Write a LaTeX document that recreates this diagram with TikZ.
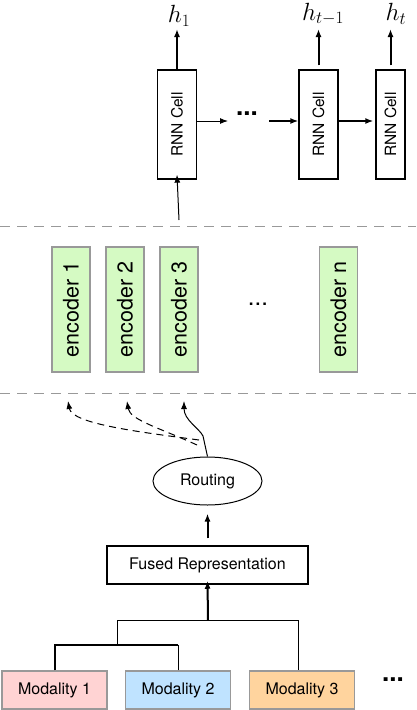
\documentclass[tikz,border=0pt]{standalone}
\usepackage{amsmath}
\usepackage{fontspec}
\setmainfont{TeX Gyre Heros}
\usepackage{tikz}
\usetikzlibrary{arrows.meta,shapes.geometric}
\tikzset{>={Latex[length=8,width=6]}}
\usepackage{xcolor}
\definecolor{encgreen}{HTML}{D5FAC3}
\definecolor{modpink}{HTML}{FFD3D3}
\definecolor{modblue}{HTML}{BFE3FF}
\definecolor{modorange}{HTML}{FFD49E}
\colorlet{boxgray}{black!40}
\tikzstyle{cell}=[draw,line width=1.3,minimum width=39,minimum height=109,inner sep=0,font=\fontsize{15.5}{18}\selectfont]
\tikzstyle{encoder}=[draw=boxgray,fill=encgreen,line width=1.2,minimum width=38,minimum height=125,inner sep=0,font=\fontsize{21.5}{24}\selectfont]
\tikzstyle{modality}=[draw=boxgray,line width=1.2,minimum width=105,minimum height=38,inner sep=0,font=\fontsize{16}{18}\selectfont]
\tikzstyle{sep}=[draw=black!40,line width=1,dash pattern=on 10 off 7]
\tikzstyle{hlabel}=[inner sep=0,font=\fontsize{25}{28}\selectfont]
\tikzstyle{dots}=[inner sep=0,font=\fontsize{26}{28}\selectfont\bfseries]

\begin{document}
\begin{tikzpicture}[x=1pt,y=-1pt,line width=1]
				\useasboundingbox (0,0) rectangle (416,710);
				% RNN row
				\node[cell] at (177, 124.5)   (c1) {\rotatebox{90}{RNN Cell}};
				\node[cell] at (318.5, 124.5) (c2) {\rotatebox{90}{RNN Cell}};
				\node[cell,minimum width=29] at (390.5, 124.5) (c3) {\rotatebox{90}{RNN Cell}};
				\node[hlabel] at (179, 16)   (h1) {$h_1$};
				\node[hlabel] at (323, 14)   (h2) {$h_{t-1}$};
				\node[hlabel] at (396, 14)   (h3) {$h_t$};
				\coordinate (htop) at (0, 29);
				\draw [->,line width=2] (c1.north) -- (c1.north |- htop);
				\draw [->,line width=2] ([yshift=4]c2.north) -- (c2.north |- htop);
				\draw [->,line width=2] ([yshift=4]c3.north) -- (c3.north |- htop);
				
				\coordinate (rrow) at (0, 121);
				\node[dots] at (247, 114) (rdots) {...};
				\coordinate (rd1) at (228, 121);
				\coordinate (rd2) at (269, 121);
				\draw [->] (c1.east |- rrow) -- (rd1);
				\draw [->,line width=1.8] (rd2) -- (c2.west |- rrow);
				\draw [->,line width=1.8] (c2.east |- rrow) -- ([xshift=-2]c3.west |- rrow);
				\coordinate (cin) at (179, 220);
				\draw [->] (cin) -- ([yshift=5]c1.south);
				
				% encoders
				\draw [sep] (0, 226) -- (416, 226);
				\node[encoder] at (71, 309.5)    (e1) {\rotatebox{90}{encoder 1}};
				\node[encoder] at (125, 309.5)   (e2) {\rotatebox{90}{encoder 2}};
				\node[encoder] at (179, 309.5)   (e3) {\rotatebox{90}{encoder 3}};
				\node[encoder] at (338.5, 309.5) (en) {\rotatebox{90}{encoder n}};
				\node[dots,font=\fontsize{24}{26}\selectfont] at (258, 304) (edots) {...};
				\draw [sep] (0, 393) -- (416, 393);
				
				% routing
				\node[draw,ellipse,line width=1,minimum width=109,minimum height=48,inner sep=0,font=\fontsize{16}{18}\selectfont] at (207.5, 481) (route) {Routing};
				\coordinate (split) at (203, 440);
				\draw [->] (route.north) -- ([yshift=4]split) .. controls (199, 428) and (184, 420) .. (184, 401);
				\draw [->,dash pattern=on 7 off 5] ([xshift=-4]split) .. controls (140, 432) and (72, 424) .. (68, 401);
				\draw [->,dash pattern=on 7 off 5] ([xshift=-6,yshift=-5]split) .. controls (160, 428) and (130, 420) .. (127, 401);
				
				% fused
				\node[draw,line width=1.5,minimum width=201,minimum height=38,inner sep=0,font=\fontsize{16}{18}\selectfont] at (207.5, 565) (fused) {Fused Representation};
				\draw [->,line width=2,shorten <=7,shorten >=8] (fused.north) -- (route.south);
				
				% modalities
				\node[modality,fill=modpink]   at (54.5, 690) (m1) {Modality 1};
				\node[modality,fill=modblue]   at (178, 690)  (m2) {Modality 2};
				\node[modality,fill=modorange] at (302, 690)  (m3) {Modality 3};
				\node[dots] at (393, 680) (mdots) {...};
				
				\coordinate (t12) at (117, 645);
				\coordinate (t3) at (208, 620);
				\draw [line width=2] (m1.north) |- (m2.north |- t12);
				\draw (m2.north) -- (m2.north |- t12);
				\draw (t12) |- ([xshift=-4]m3.north |- t3) -- ([xshift=-4]m3.north);
				\draw [->,line width=2] (t3) -- ([yshift=4]fused.south);
			\end{tikzpicture}
\end{document}
